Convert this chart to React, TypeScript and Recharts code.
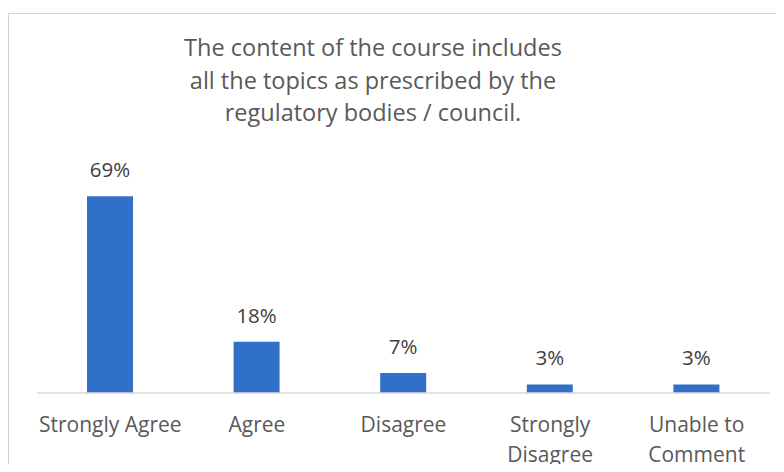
import { Bar, BarChart, LabelList, XAxis, YAxis } from "recharts";

const categories = ["Strongly Agree", "Agree", "Disagree", "Strongly Disagree", "Unable to Comment"];
const tickLines = [["Strongly Agree"], ["Agree"], ["Disagree"], ["Strongly", "Disagree"], ["Unable to", "Comment"]];
const percents = [69, 18, 7, 3, 3];
const titleLines = [
  "The content of the course includes",
  "all the topics as prescribed by the",
  "regulatory bodies / council.",
];

const data = categories.map((name, i) => ({ name, value: percents[i] }));

const FONT = "'Open Sans', 'Noto Sans', sans-serif";

function CategoryTick(props: any) {
  const { x, y, index } = props;
  const lines = tickLines[index] ?? [categories[index]];
  return (
    <g transform={`translate(${x},${y})`}>
      {lines.map((line, i) => (
        <text key={i} x={0} y={31 + i * 30} textAnchor="middle" fill="#595959" fontSize={21} fontFamily={FONT}>
          {line}
        </text>
      ))}
    </g>
  );
}

export default function App() {
  return (
    <div
      style={{
        position: "relative",
        width: 776,
        height: 464,
        marginBottom: -8,
        overflow: "hidden",
        background: "#fff",
      }}
    >
      <style>{`html, body { overflow: hidden; }`}</style>
      {/* chart frame: only the top and left edges fall inside the picture */}
      <div
        style={{
          position: "absolute",
          left: 0,
          top: 5,
          right: 0,
          bottom: 0,
          borderTop: "1px solid #d4d4d4",
          borderLeft: "1px solid #d4d4d4",
        }}
      />
      <div
        style={{
          position: "absolute",
          left: 0,
          width: 730,
          top: 23,
          textAlign: "center",
          color: "#595959",
          fontFamily: FONT,
          fontSize: 23.5,
          lineHeight: "32.5px",
        }}
      >
        {titleLines.map((t, i) => (
          <div key={i}>{t}</div>
        ))}
      </div>
      <BarChart
        width={776}
        height={464}
        data={data}
        margin={{ top: 157, right: 14, bottom: 0, left: 29 }}
        style={{ position: "absolute", left: 0, top: 0 }}
      >
        <XAxis
          dataKey="name"
          axisLine={{ stroke: "#d9d9d9", strokeWidth: 1.5 }}
          tickLine={false}
          height={79}
          interval={0}
          tick={<CategoryTick />}
        />
        <YAxis hide domain={[0, 80]} />
        <Bar dataKey="value" fill="#3070c8" barSize={46} isAnimationActive={false}>
          <LabelList
            dataKey="value"
            position="top"
            offset={19}
            formatter={(v: any) => `${v}%`}
            fill="#404040"
            fontSize={20.5}
            fontFamily={FONT}
          />
        </Bar>
      </BarChart>
    </div>
  );
}
